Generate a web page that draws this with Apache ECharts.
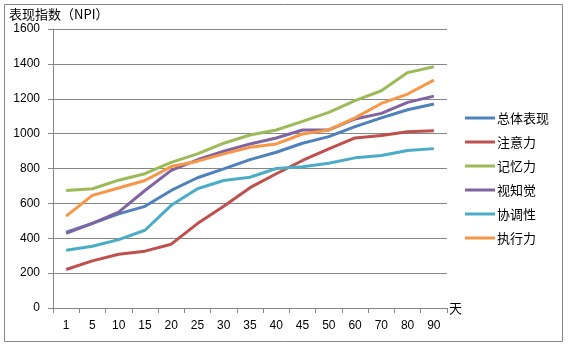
<!DOCTYPE html>
<html>
<head>
<meta charset="utf-8">
<style>
  html, body { margin: 0; padding: 0; background: #fff; }
  #chart { width: 568px; height: 345px; }
</style>
<script src="https://cdn.jsdelivr.net/npm/echarts@6/dist/echarts.min.js"></script>
</head>
<body>
<div id="chart"></div>
<script>
// Days of training (x axis categories)
const days = ['1', '5', '10', '15', '20', '25', '30', '35', '40', '45', '50', '60', '70', '80', '90'];

// Performance index (NPI) per dimension
const overall    = [435, 485, 540, 583, 674, 747, 798, 851, 893, 945, 983, 1040, 1090, 1137, 1170];
const attention  = [221, 270, 308, 326, 366, 484, 583, 690, 770, 846, 912, 975, 989, 1011, 1017];
const memory     = [674, 684, 733, 770, 835, 884, 945, 992, 1021, 1070, 1122, 1189, 1246, 1350, 1383];
const perception = [428, 485, 550, 674, 789, 850, 899, 941, 975, 1021, 1021, 1084, 1116, 1179, 1215];
const coordination = [331, 354, 392, 446, 589, 684, 731, 750, 800, 810, 830, 861, 874, 903, 914];
const executive  = [527, 646, 688, 731, 811, 842, 884, 922, 941, 998, 1021, 1090, 1173, 1227, 1307];

const seriesNames = ['总体表现', '注意力', '记忆力', '视知觉', '协调性', '执行力'];
const seriesData = [overall, attention, memory, perception, coordination, executive];
const colors = ['#4F81BD', '#C0504D', '#9BBB59', '#8064A2', '#4BACC6', '#F79646'];

// Value axis ticks
const yMin = 0, yMax = 1600, yStep = 200;

const cjk = '"Noto Sans CJK SC", sans-serif';
const num = '"Liberation Sans", Arial, sans-serif';
const gridGrey = '#868686';

const chart = echarts.init(document.getElementById('chart'), null, { renderer: 'canvas' });

chart.setOption({
  animation: false,
  color: colors,
  title: {
    text: '表现指数（NPI）',
    left: 9,
    top: 6,
    padding: 0,
    textStyle: { fontFamily: cjk, fontSize: 13, fontWeight: 'normal', color: '#000', lineHeight: 17 }
  },
  graphic: [{
    type: 'rect',
    shape: { x: 4.5, y: 4.5, width: 558, height: 337 },
    style: { fill: 'none', stroke: '#888', lineWidth: 1 },
    silent: true,
    z: -1
  }],
  legend: {
    orient: 'vertical',
    left: 465,
    top: 111,
    padding: 0,
    icon: 'rect',
    itemWidth: 30,
    itemHeight: 3,
    itemGap: 10,
    textStyle: { fontFamily: cjk, fontSize: 13, color: '#000', lineHeight: 14, padding: [0, 0, 0, -3] },
    data: seriesNames
  },
  grid: { left: 53, right: 121, top: 29, bottom: 37, containLabel: false },
  xAxis: {
    type: 'category',
    data: days,
    boundaryGap: true,
    name: '天',
    nameLocation: 'end',
    nameGap: 2,
    nameTextStyle: { fontFamily: cjk, fontSize: 13, color: '#000', verticalAlign: 'middle', padding: [36, 0, 0, 0] },
    axisLine: { lineStyle: { color: gridGrey, width: 1 } },
    axisTick: { show: true, alignWithLabel: false, length: 5, inside: false, lineStyle: { color: gridGrey } },
    axisLabel: { fontFamily: num, fontSize: 12, color: '#000', margin: 12, interval: 0 },
    splitLine: { show: false }
  },
  yAxis: {
    type: 'value',
    min: yMin,
    max: yMax,
    interval: yStep,
    axisLine: { show: true, lineStyle: { color: gridGrey, width: 1 } },
    axisTick: { show: true, length: 5, lineStyle: { color: gridGrey } },
    axisLabel: { fontFamily: num, fontSize: 12, color: '#000', margin: 13, formatter: v => String(v) },
    splitLine: { show: true, lineStyle: { color: gridGrey, width: 1 } }
  },
  series: seriesNames.map((name, i) => ({
    name: name,
    type: 'line',
    data: seriesData[i],
    showSymbol: false,
    symbol: 'none',
    lineStyle: { width: 3, color: colors[i] },
    itemStyle: { color: colors[i] }
  }))
});
</script>
</body>
</html>
